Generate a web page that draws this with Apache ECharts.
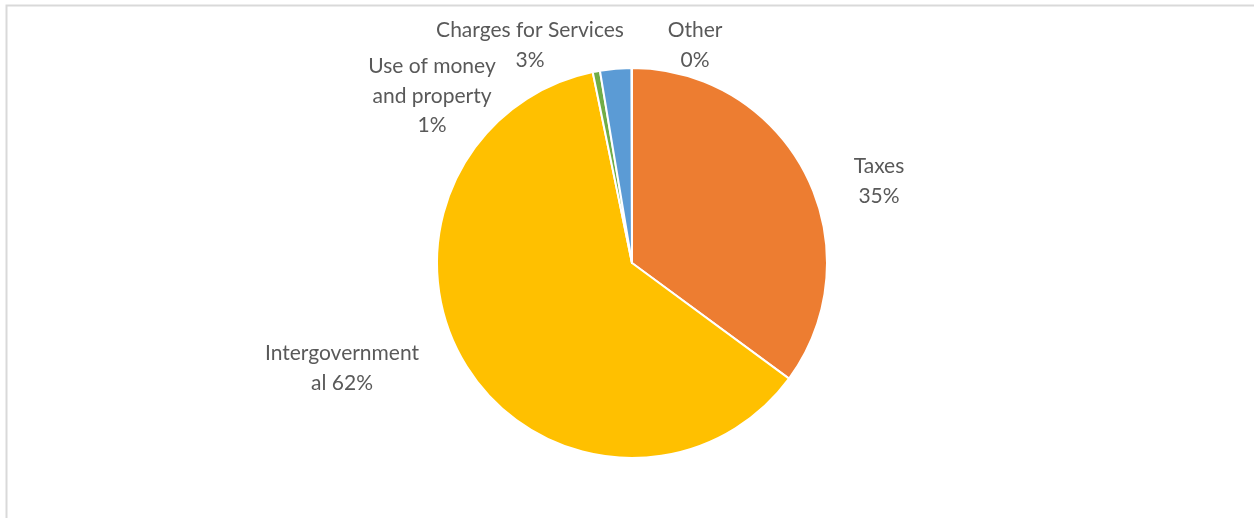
<!DOCTYPE html>
<html>
<head>
<meta charset="utf-8">
<script src="https://cdn.jsdelivr.net/npm/echarts@6/dist/echarts.min.js"></script>
<style>
  html, body { margin: 0; padding: 0; background: #fff; }
  #chart { width: 1254px; height: 518px; }
</style>
</head>
<body>
<div id="chart"></div>
<script>
// Revenue sources, share of total (%)
const categories = ['Taxes', 'Intergovernmental', 'Use of money and property', 'Charges for Services', 'Other'];
const shares = [35.1, 61.67, 0.6, 2.6, 0.03];
const labelTexts = ['Taxes', 'Intergovernment\nal', 'Use of money\nand property', 'Charges for Services', 'Other'];
const colors = ['#ED7D31', '#FFC000', '#70AD47', '#5B9BD5', '#A5A5A5'];

// label block centres (px)
const labelSpots = [[879, 181], [342, 368], [432, 96], [530, 45], [695, 45]];

const chart = echarts.init(document.getElementById('chart'));
chart.setOption({
  animation: false,
  backgroundColor: '#fff',
  graphic: [{
    type: 'polyline',
    shape: { points: [[6.5, 600], [6.5, 5.5], [1300, 5.5]] },
    style: { stroke: '#d9d9d9', lineWidth: 2, fill: null }
  }],
  series: [{
    type: 'pie',
    center: [632, 263],
    radius: 195,
    startAngle: 90,
    clockwise: true,
    avoidLabelOverlap: false,
    itemStyle: { borderColor: '#fff', borderWidth: 2 },
    labelLine: { show: false },
    label: {
      show: true,
      position: 'outside',
      color: '#595959',
      fontFamily: 'Lato',
      fontSize: 21,
      lineHeight: 29.5,
      align: 'center',
      formatter: function (p) {
        const t = labelTexts[p.dataIndex];
        const pct = Math.round(p.percent) + '%';
        return p.dataIndex === 1 ? t + ' ' + pct : t + '\n' + pct;
      }
    },
    labelLayout: function (p) {
      const s = labelSpots[p.dataIndex];
      return { x: s[0], y: s[1], align: 'center', verticalAlign: 'middle' };
    },
    data: categories.map(function (c, i) {
      return { name: c, value: shares[i], itemStyle: { color: colors[i] } };
    })
  }]
});
</script>
</body>
</html>
